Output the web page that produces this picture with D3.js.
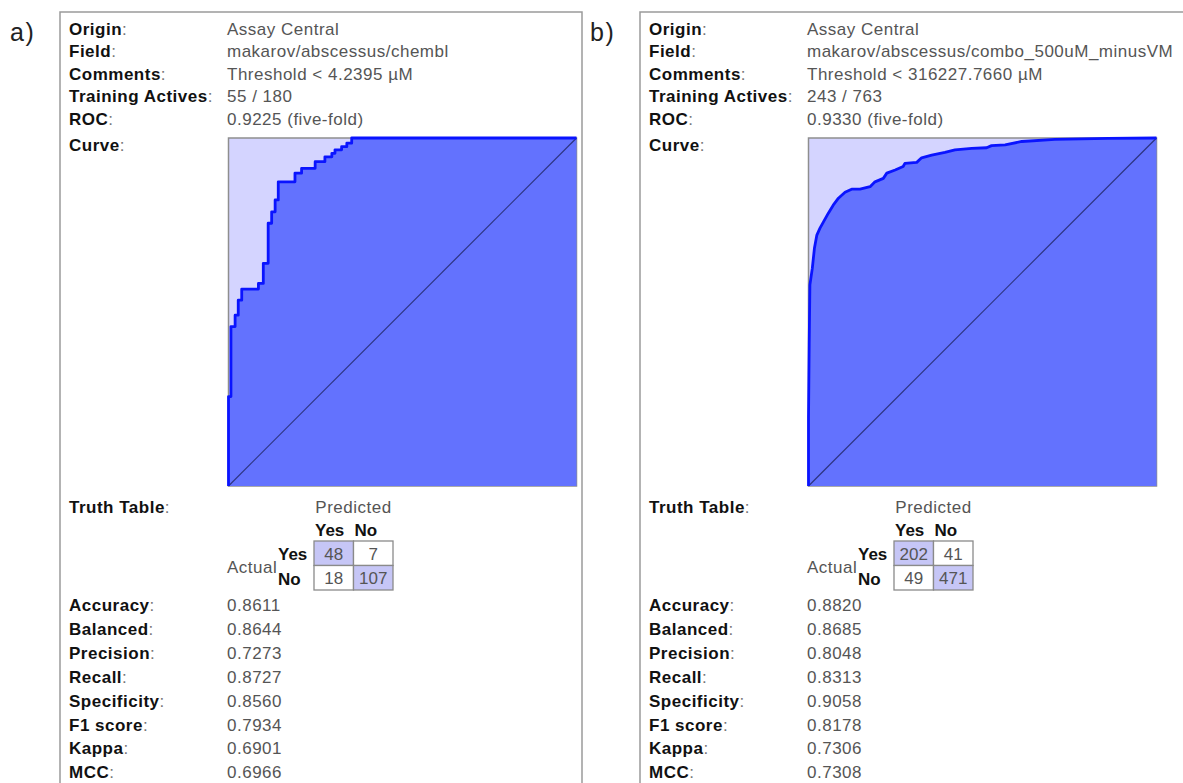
<!DOCTYPE html>
<html><head><meta charset="utf-8">
<script src="https://cdn.jsdelivr.net/npm/d3@7"></script>
<style>body{margin:0;background:#fff;} svg{display:block;}</style>
</head><body><svg id="c" width="1183" height="783"></svg>
<script>
// ---------- data ----------
const panelTags = ["a)", "b)"];
const headerLabels = ["Origin", "Field", "Comments", "Training Actives", "ROC", "Curve"];
const headerValuesA = ["Assay Central", "makarov/abscessus/chembl", "Threshold < 4.2395 µM", "55 / 180", "0.9225 (five-fold)", ""];
const headerValuesB = ["Assay Central", "makarov/abscessus/combo_500uM_minusVM", "Threshold < 316227.7660 µM", "243 / 763", "0.9330 (five-fold)", ""];
const metricLabels = ["Accuracy", "Balanced", "Precision", "Recall", "Specificity", "F1 score", "Kappa", "MCC"];
const metricsA = ["0.8611", "0.8644", "0.7273", "0.8727", "0.8560", "0.7934", "0.6901", "0.6966"];
const metricsB = ["0.8820", "0.8685", "0.8048", "0.8313", "0.9058", "0.8178", "0.7306", "0.7308"];
const truthClasses = ["Yes", "No"];
const truthA = [[48, 7], [18, 107]];
const truthB = [[202, 41], [49, 471]];
// ROC curve a (stepped corners: false positive rate, true positive rate)
const rocFprA = [0, 0.007, 0.019, 0.028, 0.038, 0.086, 0.100, 0.114, 0.124, 0.134, 0.143, 0.191, 0.210, 0.249, 0.277, 0.297, 0.306, 0.325, 0.340, 0.354, 1.0];
const rocTprA = [0, 0.257, 0.458, 0.491, 0.534, 0.566, 0.582, 0.640, 0.755, 0.788, 0.822, 0.874, 0.899, 0.913, 0.932, 0.946, 0.956, 0.966, 0.975, 0.985, 1.0];
// ROC curve b
const rocFprB = [0, 0, 0.002, 0.004, 0.011, 0.017, 0.024, 0.033, 0.043, 0.057, 0.071, 0.086, 0.105, 0.124, 0.148, 0.177, 0.191, 0.215, 0.225, 0.249, 0.272, 0.277, 0.311, 0.325, 0.354, 0.392, 0.421, 0.469, 0.512, 0.526, 0.565, 0.613, 0.708, 0.860, 1.0];
const rocTprB = [0, 0.195, 0.405, 0.578, 0.626, 0.683, 0.721, 0.741, 0.759, 0.784, 0.807, 0.827, 0.844, 0.853, 0.853, 0.860, 0.874, 0.884, 0.899, 0.908, 0.918, 0.927, 0.930, 0.943, 0.951, 0.959, 0.966, 0.970, 0.972, 0.978, 0.980, 0.990, 0.996, 0.999, 1.0];

// ---------- drawing ----------
const svg = d3.select("#c");
const FONT = "'Liberation Sans', Arial, Helvetica, sans-serif";
const FS = 17, LS = 0.5;

const panels = [
  {tag: panelTags[0], header: headerValuesA, metrics: metricsA, truth: truthA, fpr: rocFprA, tpr: rocTprA, step: true, boxW: 522},
  {tag: panelTags[1], header: headerValuesB, metrics: metricsB, truth: truthB, fpr: rocFprB, tpr: rocTprB, step: false, boxW: 560}
];

function label(g, x, y, name) {
  const t = g.append("text").attr("x", x).attr("y", y)
    .attr("font-family", FONT).attr("font-size", FS).attr("letter-spacing", LS);
  t.append("tspan").attr("font-weight", "bold").attr("fill", "#111").text(name);
  t.append("tspan").attr("fill", "#777").text(":");
}
function value(g, x, y, txt, anchor) {
  g.append("text").attr("x", x).attr("y", y)
    .attr("font-family", FONT).attr("font-size", FS).attr("letter-spacing", LS)
    .attr("fill", "#555").attr("text-anchor", anchor || "start").text(txt);
}

panels.forEach((p, i) => {
  const g = svg.append("g").attr("transform", `translate(${i * 580},0)`);

  // panel tag
  g.append("text").attr("x", 10).attr("y", 41).attr("font-family", FONT)
    .attr("font-size", 25).attr("letter-spacing", 1.5).attr("fill", "#222").text(p.tag);

  // frame
  g.append("rect").attr("x", 60).attr("y", 12).attr("width", p.boxW).attr("height", 800)
    .attr("fill", "none").attr("stroke", "#9a9a9a").attr("stroke-width", 1.5);

  // header rows
  const hy = [34.5, 57, 79.5, 102, 124.5, 151];
  headerLabels.forEach((lab, k) => {
    label(g, 69, hy[k], lab);
    if (p.header[k]) value(g, 227, hy[k], p.header[k]);
  });

  // ROC plot
  const x = d3.scaleLinear().domain([0, 1]).range([228.5, 576.5]);
  const y = d3.scaleLinear().domain([0, 1]).range([486, 138]);
  const pts = p.fpr.map((f, k) => [f, p.tpr[k]]);
  const curve = p.step ? d3.curveStepBefore : d3.curveLinear;

  g.append("rect").attr("x", x(0)).attr("y", y(1)).attr("width", x(1) - x(0)).attr("height", y(0) - y(1))
    .attr("fill", "#d4d4ff").attr("stroke", "#8e8e8e").attr("stroke-width", 1.5);
  g.append("path").datum(pts)
    .attr("d", d3.area().x(d => x(d[0])).y0(y(0)).y1(d => y(d[1])).curve(curve))
    .attr("fill", "#6372fe");
  g.append("line").attr("x1", x(0)).attr("y1", y(0)).attr("x2", x(1)).attr("y2", y(1))
    .attr("stroke", "#2d3580").attr("stroke-width", 1.2);
  g.append("path").datum(pts)
    .attr("d", d3.line().x(d => x(d[0])).y(d => y(d[1])).curve(curve))
    .attr("fill", "none").attr("stroke", "#0a14ff").attr("stroke-width", 2.8)
    .attr("stroke-linejoin", "round");

  // truth table
  label(g, 69, 513, "Truth Table");
  value(g, 353.5, 513, "Predicted", "middle");
  const cx = d3.scaleBand().domain([0, 1]).range([314, 393]);
  const cy = d3.scaleBand().domain([0, 1]).range([541, 590]);
  truthClasses.forEach((c, k) => {
    g.append("text").attr("x", cx(k) + 1).attr("y", 536).attr("font-family", FONT)
      .attr("font-size", FS).attr("font-weight", "bold").attr("fill", "#111").text(c);
    g.append("text").attr("x", 278).attr("y", cy(k) + 19).attr("font-family", FONT)
      .attr("font-size", FS).attr("font-weight", "bold").attr("fill", "#111").text(c);
  });
  value(g, 227, 573, "Actual");
  p.truth.forEach((row, r) => row.forEach((v, c) => {
    g.append("rect").attr("x", cx(c)).attr("y", cy(r)).attr("width", cx.bandwidth()).attr("height", cy.bandwidth())
      .attr("fill", r === c ? "#c6c6f6" : "#fff").attr("stroke", "#8a8a8a").attr("stroke-width", 1.3);
    g.append("text").attr("x", cx(c) + cx.bandwidth() / 2).attr("y", cy(r) + 18.5)
      .attr("text-anchor", "middle").attr("font-family", FONT).attr("font-size", FS)
      .attr("fill", "#555").text(v);
  }));

  // metrics
  metricLabels.forEach((m, k) => {
    const yy = 611 + k * 23.9;
    label(g, 69, yy, m);
    value(g, 227, yy, p.metrics[k]);
  });
});
</script>
</body></html>
